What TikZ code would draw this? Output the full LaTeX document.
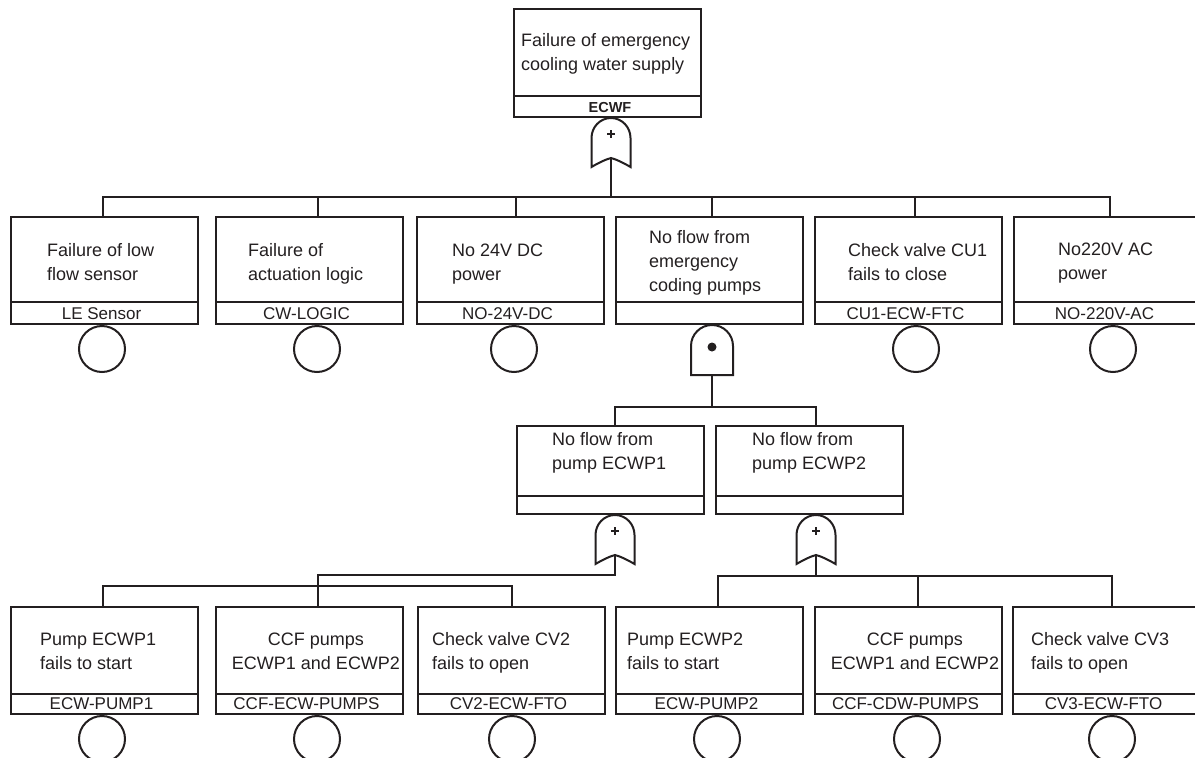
\documentclass[tikz,border=0pt]{standalone}
\usepackage{fontspec}
\setmainfont{Liberation Sans}
\definecolor{ink}{HTML}{231F20}
\tikzset{
  evt/.style={draw=ink, line width=2pt, rectangle, minimum width=187pt, inner sep=0pt, anchor=north west},
  desc/.style={text=ink, align=left, anchor=base west, inner sep=0pt, font=\fontsize{18}{24}\selectfont},
  descc/.style={desc, align=center, anchor=base},
  lab/.style={text=ink, anchor=base, inner sep=0pt, font=\fontsize{17}{20}\selectfont},
  basic/.style={draw=ink, line width=2pt, circle, minimum size=46pt, inner sep=0pt, anchor=north},
  wire/.style={draw=ink, line width=2pt},
  gate/.style={draw=ink, line width=2pt, fill=white, line join=miter},
}
% event box: name, left x, top y, height, id band height, id text
\newcommand\eventbox[6]{%
  \node[evt, minimum height=#4pt] (#1) at (#2,#3) {};
  \draw[wire] ([yshift=#5pt]#1.south west) -- ([yshift=#5pt]#1.south east);
  \node[lab] (#1-id) at ([xshift=-3pt,yshift=5.5pt]#1.south) {#6};
}
% OR gate hanging below a point
\newcommand\orgate[2]{%
  \begin{scope}[shift={#2}]
    \draw[gate] (-19.5,49) -- (-19.5,20)
      .. controls (-19.5,9) and (-10.8,0) .. (0,0)
      .. controls (10.8,0) and (19.5,9) .. (19.5,20)
      -- (19.5,49) .. controls (11,44) and (4,41) .. (0,40)
      .. controls (-4,41) and (-11,44) .. (-19.5,49) -- cycle;
    \draw[ink, line width=1.6pt] (-4,16) -- (4,16) (0,12) -- (0,20);
    \coordinate (#1-out) at (0,40);
  \end{scope}}
% AND gate hanging below a point
\newcommand\andgate[2]{%
  \begin{scope}[shift={#2}]
    \draw[gate] (-21,50) -- (-21,21)
      .. controls (-21,9.4) and (-11.6,0) .. (0,0)
      .. controls (11.6,0) and (21,9.4) .. (21,21)
      -- (21,50) -- cycle;
    \fill[ink] (0,22) circle[radius=4.5];
    \coordinate (#1-out) at (0,50);
  \end{scope}}

\begin{document}
\begin{tikzpicture}[x=1pt, y=-1pt]
\useasboundingbox (0,0) rectangle (1195,758);
\clip (0,0) rectangle (1195,758);

% top event (description anchored on the baseline of its last line)
\eventbox{top}{513}{8}{108}{22}{}
\node[lab, font=\bfseries\fontsize{14.5}{16}\selectfont] (top-id) at ([xshift=2.5pt,yshift=5.5pt]top.south) {ECWF};
\node[desc] at ([xshift=8pt,yshift=-62pt]top.north west) {Failure of emergency\\cooling water supply};

% first level
\eventbox{e1}{10}{216}{107}{23}{LE Sensor}
\eventbox{e2}{215}{216}{107}{23}{CW-LOGIC}
\eventbox{e3}{416}{216}{107}{23}{NO-24V-DC}
\eventbox{e4}{615}{216}{107}{23}{}
\eventbox{e5}{814}{216}{107}{23}{CU1-ECW-FTC}
\eventbox{e6}{1013}{216}{107}{23}{NO-220V-AC}
\node[desc] at ([xshift=37pt,yshift=-64pt]e1.north west) {Failure of low\\flow sensor};
\node[desc] at ([xshift=33pt,yshift=-64pt]e2.north west) {Failure of\\actuation logic};
\node[desc] at ([xshift=36pt,yshift=-64pt]e3.north west) {No 24V DC\\power};
\node[desc] at ([xshift=34pt,yshift=-75pt]e4.north west) {No flow from\\emergency\\coding pumps};
\node[desc] at ([xshift=34pt,yshift=-64pt]e5.north west) {Check valve CU1\\fails to close};
\node[desc] at ([xshift=45pt,yshift=-63pt]e6.north west) {No220V AC\\power};

% second level
\eventbox{f1}{516}{425}{88}{19}{}
\eventbox{f2}{715}{425}{88}{19}{}
\node[desc] at ([xshift=36pt,yshift=-44pt]f1.north west) {No flow from\\pump ECWP1};
\node[desc] at ([xshift=37pt,yshift=-44pt]f2.north west) {No flow from\\pump ECWP2};

% third level
\eventbox{h1}{10}{606}{107}{21}{ECW-PUMP1}
\eventbox{h2}{215}{606}{107}{21}{CCF-ECW-PUMPS}
\eventbox{h3}{417}{606}{107}{21}{CV2-ECW-FTO}
\eventbox{h4}{615}{606}{107}{21}{ECW-PUMP2}
\eventbox{h5}{814}{606}{107}{21}{CCF-CDW-PUMPS}
\eventbox{h6}{1012}{606}{107}{21}{CV3-ECW-FTO}
\node[desc] at ([xshift=30pt,yshift=-63pt]h1.north west) {Pump ECWP1\\fails to start};
\node[descc] at ([xshift=6.5pt,yshift=-63pt]h2.north) {CCF pumps\\ECWP1 and ECWP2};
\node[desc] at ([xshift=15pt,yshift=-63pt]h3.north west) {Check valve CV2\\fails to open};
\node[desc] at ([xshift=12pt,yshift=-63pt]h4.north west) {Pump ECWP2\\fails to start};
\node[descc] at ([xshift=6.5pt,yshift=-63pt]h5.north) {CCF pumps\\ECWP1 and ECWP2};
\node[desc] at ([xshift=19pt,yshift=-63pt]h6.north west) {Check valve CV3\\fails to open};

% gates
\orgate{g0}{([xshift=3.5pt]top.south)}
\andgate{g1}{([xshift=2.5pt]e4.south)}
\orgate{g2}{([xshift=4.5pt]f1.south)}
\orgate{g3}{([xshift=6.5pt]f2.south)}

% connectors from the top gate
\draw[wire] (g0-out) -- ++(0,39) -| ([xshift=-1.5pt]e1.north);
\draw[wire] (g0-out) -- ++(0,39) -| ([xshift=8.5pt]e2.north);
\draw[wire] (g0-out) -- ++(0,39) -| ([xshift=5.5pt]e3.north);
\draw[wire] (g0-out) -- ++(0,39) -| ([xshift=2.5pt]e4.north);
\draw[wire] (g0-out) -- ++(0,39) -| ([xshift=6.5pt]e5.north);
\draw[wire] (g0-out) -- ++(0,39) -| ([xshift=2.5pt]e6.north);

% connectors from the AND gate
\draw[wire] (g1-out) -- ++(0,32) -| ([xshift=4.5pt]f1.north);
\draw[wire] (g1-out) -- ++(0,32) -| ([xshift=6.5pt]f2.north);

% connectors of the left OR gate
\draw[wire] (g2-out) -- ++(0,20) -| ([xshift=8.5pt]h2.north);
\draw[wire] ([xshift=-1.5pt]h1.north) -- ++(0,-20) -| (h3.north);

% connectors of the right OR gate
\draw[wire] (g3-out) -- ++(0,21) -| ([xshift=8.5pt]h4.north);
\draw[wire] (g3-out) -- ++(0,21) -| ([xshift=9.5pt]h5.north);
\draw[wire] (g3-out) -- ++(0,21) -| ([xshift=5.5pt]h6.north);

% basic events
\node[basic] (c1) at ([xshift=-2.5pt]e1.south) {};
\node[basic] (c2) at ([xshift=7.5pt]e2.south) {};
\node[basic] (c3) at ([xshift=3.5pt]e3.south) {};
\node[basic] (c5) at ([xshift=7.5pt]e5.south) {};
\node[basic] (c6) at ([xshift=5.5pt]e6.south) {};
\node[basic] (d1) at ([xshift=-2.5pt]h1.south) {};
\node[basic] (d2) at ([xshift=7.5pt]h2.south) {};
\node[basic] (d3) at ([xshift=0.5pt]h3.south) {};
\node[basic] (d4) at ([xshift=7.5pt]h4.south) {};
\node[basic] (d5) at ([xshift=8.5pt]h5.south) {};
\node[basic] (d6) at ([xshift=5.5pt]h6.south) {};
\end{tikzpicture}
\end{document}
